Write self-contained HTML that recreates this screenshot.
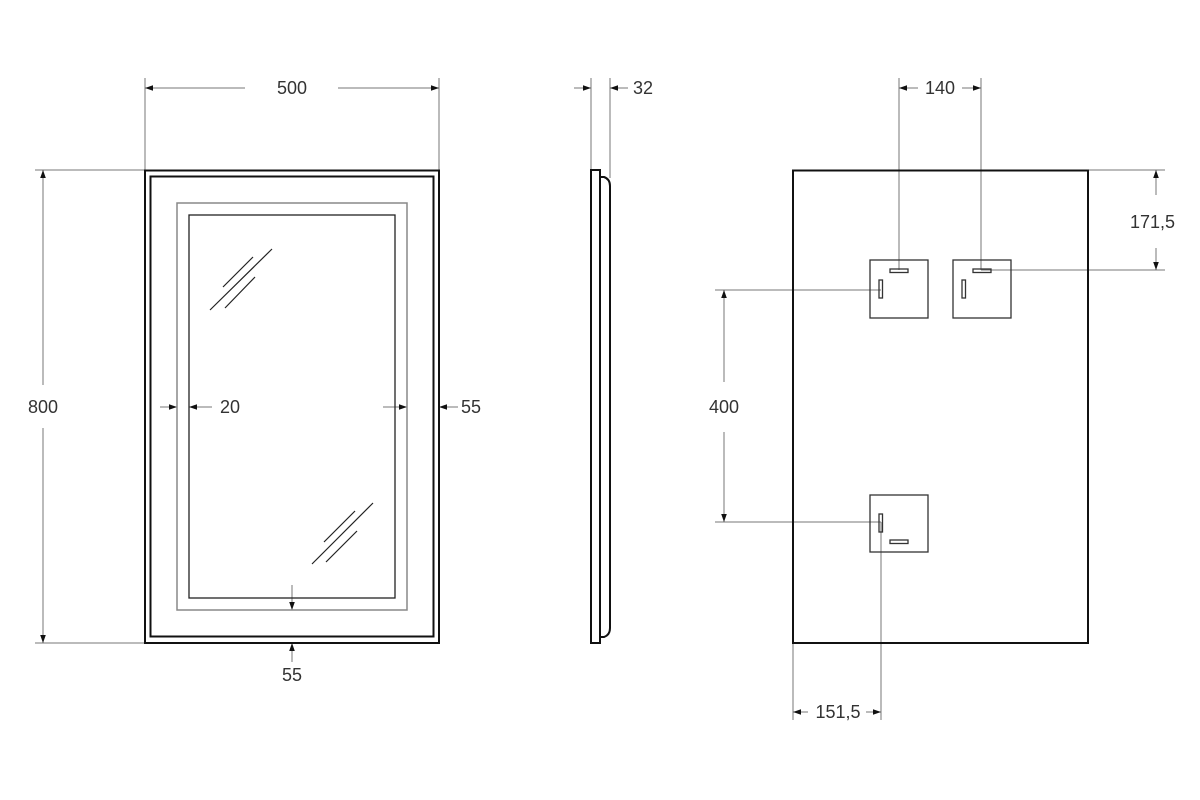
<!DOCTYPE html>
<html><head><meta charset="utf-8"><style>
html,body{margin:0;padding:0;background:#fff}
svg{display:block}
text{font-family:"Liberation Sans",sans-serif;font-size:18px;fill:#333}
</style></head><body>
<svg width="1200" height="800" viewBox="0 0 1200 800" xmlns="http://www.w3.org/2000/svg">
<defs>
<marker id="a" viewBox="0 0 10 10" refX="10" refY="5" markerWidth="8" markerHeight="8" orient="auto-start-reverse" markerUnits="userSpaceOnUse"><path d="M0,1.5 L10,5 L0,8.5 z" fill="#111"/></marker>
</defs>
<g fill="none" stroke="#777" stroke-width="1">
<line x1="145" y1="78" x2="145" y2="170"/><line x1="439" y1="78" x2="439" y2="170"/>
<line x1="145" y1="88" x2="245" y2="88" marker-start="url(#a)"/>
<line x1="338" y1="88" x2="439" y2="88" marker-end="url(#a)"/>
<line x1="35" y1="170" x2="145" y2="170"/><line x1="35" y1="643" x2="145" y2="643"/>
<line x1="43" y1="170" x2="43" y2="385" marker-start="url(#a)"/>
<line x1="43" y1="428" x2="43" y2="643" marker-end="url(#a)"/>
<line x1="160" y1="407" x2="177" y2="407" marker-end="url(#a)"/>
<line x1="212" y1="407" x2="189" y2="407" marker-end="url(#a)"/>
<line x1="383" y1="407" x2="407" y2="407" marker-end="url(#a)"/>
<line x1="458" y1="407" x2="439" y2="407" marker-end="url(#a)"/>
<line x1="292" y1="585" x2="292" y2="610" marker-end="url(#a)"/>
<line x1="292" y1="662" x2="292" y2="643" marker-end="url(#a)"/>
<line x1="591" y1="78" x2="591" y2="170"/><line x1="610" y1="78" x2="610" y2="178"/>
<line x1="574" y1="88" x2="591" y2="88" marker-end="url(#a)"/>
<line x1="628" y1="88" x2="610" y2="88" marker-end="url(#a)"/>
<line x1="899" y1="78" x2="899" y2="270"/><line x1="981" y1="78" x2="981" y2="270"/>
<line x1="899" y1="88" x2="918" y2="88" marker-start="url(#a)"/>
<line x1="962" y1="88" x2="981" y2="88" marker-end="url(#a)"/>
<line x1="1088" y1="170" x2="1165" y2="170"/><line x1="981" y1="270" x2="1165" y2="270"/>
<line x1="1156" y1="170" x2="1156" y2="195" marker-start="url(#a)"/>
<line x1="1156" y1="248" x2="1156" y2="270" marker-end="url(#a)"/>
<line x1="715" y1="290" x2="881" y2="290"/><line x1="715" y1="522" x2="881" y2="522"/>
<line x1="724" y1="290" x2="724" y2="382" marker-start="url(#a)"/>
<line x1="724" y1="432" x2="724" y2="522" marker-end="url(#a)"/>
<line x1="793" y1="643" x2="793" y2="720"/><line x1="881" y1="522" x2="881" y2="720"/>
<line x1="793" y1="712" x2="808" y2="712" marker-start="url(#a)"/>
<line x1="866" y1="712" x2="881" y2="712" marker-end="url(#a)"/>
</g>
<rect x="145" y="170.5" width="294" height="472.5" fill="none" stroke="#111" stroke-width="2"/>
<rect x="150.5" y="176.5" width="283" height="460" fill="none" stroke="#111" stroke-width="2"/>
<rect x="177" y="203" width="230" height="407" fill="none" stroke="#888" stroke-width="1.5"/>
<rect x="189" y="215" width="206" height="383" fill="none" stroke="#222" stroke-width="1.3"/>
<g stroke="#222" stroke-width="1.2">
<line x1="210" y1="310" x2="272" y2="249"/><line x1="223" y1="287" x2="253" y2="257"/><line x1="225" y1="308" x2="255" y2="277"/>
<line x1="312" y1="564" x2="373" y2="503"/><line x1="324" y1="542" x2="355" y2="511"/><line x1="326" y1="562" x2="357" y2="531"/>
</g>
<rect x="591" y="170" width="9" height="473" fill="none" stroke="#111" stroke-width="2"/>
<path d="M600,177 L604,177 Q610,179 610,186 L610,628 Q610,635 604,637 L600,637" fill="none" stroke="#111" stroke-width="2"/>
<rect x="793" y="170.5" width="295" height="472.5" fill="none" stroke="#111" stroke-width="2"/>
<g fill="none" stroke="#333" stroke-width="1.3">
<rect x="870" y="260" width="58" height="58"/>
<rect x="953" y="260" width="58" height="58"/>
<rect x="870" y="495" width="58" height="57"/>
<rect x="890" y="269" width="18" height="3.5"/>
<rect x="973" y="269" width="18" height="3.5"/>
<rect x="879" y="280" width="3.5" height="18"/>
<rect x="962" y="280" width="3.5" height="18"/>
<rect x="879" y="514" width="3.5" height="18"/>
<rect x="890" y="540" width="18" height="3.5"/>
</g>
<text x="292" y="94" text-anchor="middle">500</text>
<text x="43" y="413" text-anchor="middle">800</text>
<text x="220" y="413">20</text>
<text x="461" y="413">55</text>
<text x="292" y="681" text-anchor="middle">55</text>
<text x="633" y="94">32</text>
<text x="940" y="94" text-anchor="middle">140</text>
<text x="1175" y="228" text-anchor="end">171,5</text>
<text x="724" y="413" text-anchor="middle">400</text>
<text x="838" y="718" text-anchor="middle">151,5</text>
</svg>
</body></html>
